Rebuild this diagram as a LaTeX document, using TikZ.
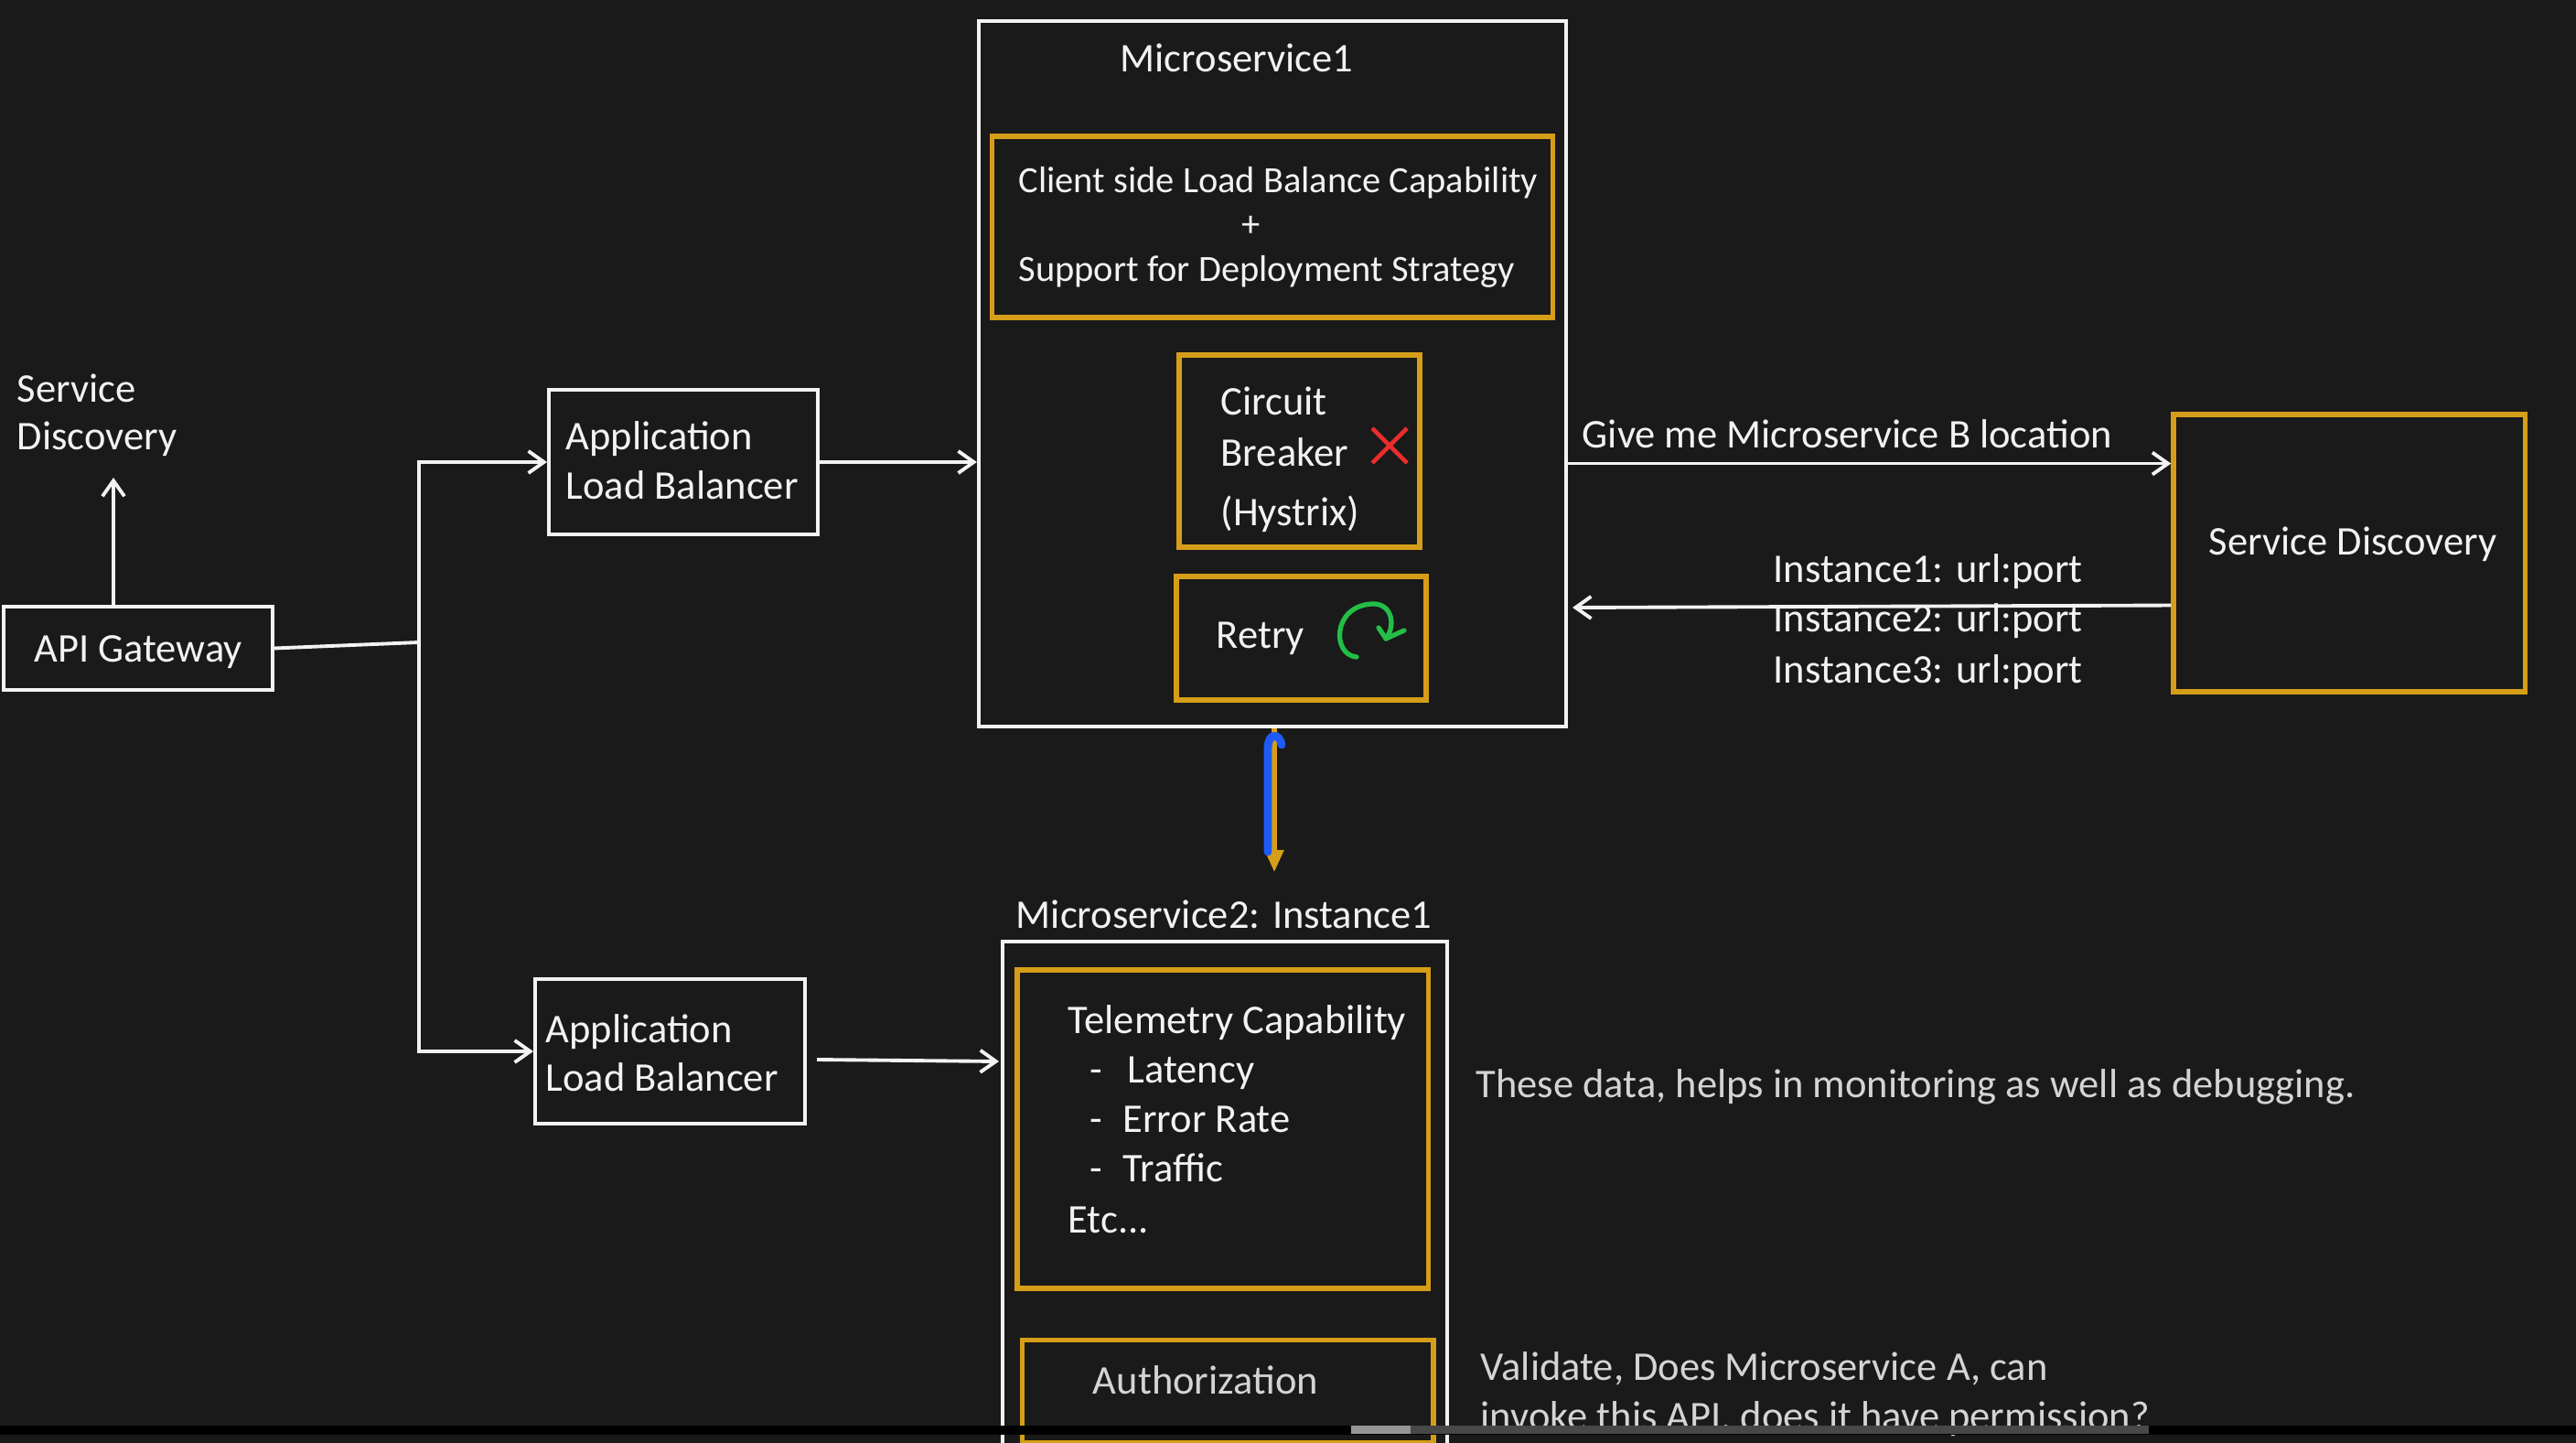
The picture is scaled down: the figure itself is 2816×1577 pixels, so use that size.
\documentclass[tikz,border=0pt]{standalone}
\usepackage{fontspec}
\setmainfont{Carlito}
\usetikzlibrary{arrows.meta}
\definecolor{bgc}{RGB}{26,26,26}
\definecolor{fgc}{RGB}{242,242,242}
\definecolor{gtx}{RGB}{212,212,212}
\definecolor{orc}{RGB}{214,158,24}
\definecolor{grc}{RGB}{34,190,70}
\definecolor{rdc}{RGB}{235,45,45}
\definecolor{blc}{RGB}{30,90,245}
\definecolor{barA}{RGB}{150,150,150}
\definecolor{barB}{RGB}{72,72,72}
\newcommand\myfs{\fontsize{12.66}{15}\selectfont}
\newcommand\mysmfs{\fontsize{11.5}{14}\selectfont}
\tikzset{
  wbox/.style={draw=fgc, line width=1.1pt, rectangle, inner sep=0pt},
  obox/.style={draw=orc, line width=1.5pt, rectangle, inner sep=0pt},
  txt/.style={inner sep=0pt, anchor=base west, text=fgc, font=\myfs, yshift=-0.03cm},
  ctxt/.style={txt, anchor=base},
  gtxt/.style={txt, text=gtx},
  arr/.style={draw=fgc, line width=1.1pt, -{Straight Barb[length=1.7mm,width=2.4mm,line width=1.1pt]}},
  ln/.style={draw=fgc, line width=1.1pt}
}
\begin{document}
\begin{tikzpicture}[x=0.01cm,y=-0.01cm]
\useasboundingbox[fill=bgc] (0,0) rectangle (2816,1577);

% ---- left part
\node[wbox, minimum width=2.94cm, minimum height=0.91cm] (api) at (151,708.5) {};
\node[ctxt] (apit) at (151,721) {API Gateway};
\node[txt] (sdl1) at (18,437) {Service};
\node[txt] (sdl2) at (18,489) {Discovery};
\coordinate (sdtip) at (124,522);
\draw[arr] (api.north -| sdtip) -- (sdtip);

\node[wbox, minimum width=2.94cm, minimum height=1.58cm] (alb1) at (747,505) {};
\node[txt] (alb1a) at (618,489) {Application};
\node[txt] (alb1b) at (618,543) {Load Balancer};
\node[wbox, minimum width=2.95cm, minimum height=1.58cm] (alb2) at (732.5,1149) {};
\node[txt] (alb2a) at (596,1136) {Application};
\node[txt] (alb2b) at (596,1189) {Load Balancer};

\coordinate (jn) at (458,702);
\draw[ln] (api.east) -- (jn);
\draw[arr] (jn) |- (alb1.west);
\draw[arr] (jn) |- (alb2.west);

% ---- Microservice1
\node[wbox, minimum width=6.42cm, minimum height=7.71cm] (ms1) at (1391,408.5) {};
\node[ctxt] (ms1t) at (1352,76) {Microservice1};
\node[obox, minimum width=6.12cm, minimum height=1.98cm] (clb) at (1391,248) {};
\node[txt, font=\mysmfs] (clb1) at (1113,208) {Client side Load Balance Capability};
\node[ctxt, font=\mysmfs] (clb2) at (1368,256) {+};
\node[txt, font=\mysmfs] (clb3) at (1113,305) {Support for Deployment Strategy};
\node[obox, minimum width=2.63cm, minimum height=2.10cm] (cb) at (1420.5,493) {};
\node[txt] (cb1) at (1334,451) {Circuit};
\node[txt] (cb2) at (1334,507) {Breaker};
\node[txt] (cb3) at (1334,572) {(Hystrix)};
\draw[rdc, line width=1.3pt] (1500,468) -- (1538,506) (1538,468) -- (1500,506);
\node[obox, minimum width=2.73cm, minimum height=1.35cm] (rt) at (1422.5,697.5) {};
\node[txt] (rtt) at (1329,706) {Retry};
\draw[grc, line width=1.5pt, line cap=round, line join=round]
  (1483,718) .. controls (1456,716) and (1456,662) .. (1500,660)
  .. controls (1522,659) and (1526,684) .. (1515,698);
\draw[grc, line width=1.5pt, line cap=round, line join=round]
  (1507,686) -- (1515,698) -- (1535,689);

\draw[arr] (alb1.east) -- (alb1.east -| ms1.west);

% ---- Service discovery
\node[obox, minimum width=3.84cm, minimum height=3.03cm] (sd) at (2568,604.5) {};
\node[ctxt] (sdt) at (2572,604) {Service Discovery};
\coordinate (q1) at ([yshift=-0.98cm]ms1.east);
\draw[arr] (q1) -- (q1 -| sd.west);
\node[txt] (give) at (1729,487) {Give me Microservice B location};
\coordinate (r1) at ([yshift=-0.57cm]sd.west);
\coordinate (r2) at (1719,664);
\draw[arr] (r1) -- (r2);
\node[txt] (in1) at (1938,634) {Instance1: url:port};
\node[txt] (in2) at (1938,688) {Instance2: url:port};
\node[txt] (in3) at (1938,744) {Instance3: url:port};

% ---- vertical arrow
\coordinate (vtop) at (1393,796);
\coordinate (vtip) at (1393,953);
\draw[orc, line width=1.5pt, -{Triangle[length=0.24cm,width=0.2cm]}] (vtop) -- (vtip);
\draw[blc, line width=2.5pt, line cap=round] (1386,931) -- (1386,818) .. controls (1386,800) and (1399,801) .. (1401,814);

% ---- Microservice2
\node[ctxt] (ms2t) at (1338,1011) {Microservice2: Instance1};
\node[wbox, minimum width=4.86cm, minimum height=5.70cm, anchor=north west] (ms2) at (1094,1027) {};
\node[obox, minimum width=4.49cm, minimum height=3.48cm] (tel) at (1336.5,1234) {};
\node[txt] (tel1) at (1167,1126) {Telemetry Capability};
\node[txt] (tel2d) at (1191,1180) {-};
\node[txt] (tel2) at (1232,1180) {Latency};
\node[txt] (tel3d) at (1191,1234) {-};
\node[txt] (tel3) at (1227,1234) {Error Rate};
\node[txt] (tel4d) at (1191,1288) {-};
\node[txt] (tel4) at (1227,1288) {Traffic};
\node[txt] (tel5) at (1167,1344) {Etc...};
\node[obox, minimum width=4.49cm, minimum height=1.12cm, anchor=north west] (auth) at (1115,1462) {};
\node[ctxt, text=gtx] (autht) at (1318,1520) {Authorization};
\coordinate (a2) at ([yshift=-0.09cm]alb2.east);
\coordinate (a2e) at (1092,1160);
\draw[arr] ([xshift=0.11cm]a2) -- (a2e);

\node[gtxt] (note1) at (1613,1196) {These data, helps in monitoring as well as debugging.};
\node[gtxt] (note2) at (1618,1505) {Validate, Does Microservice A, can};
\node[gtxt] (note3) at (1618,1559) {invoke this API, does it have permission?};

% ---- video bar
\fill[black] (0,1558) rectangle (2816,1568);
\fill[barB] (1542,1558) rectangle (2349,1567);
\fill[barA] (1477,1558) rectangle (1542,1567);
\end{tikzpicture}
\end{document}
